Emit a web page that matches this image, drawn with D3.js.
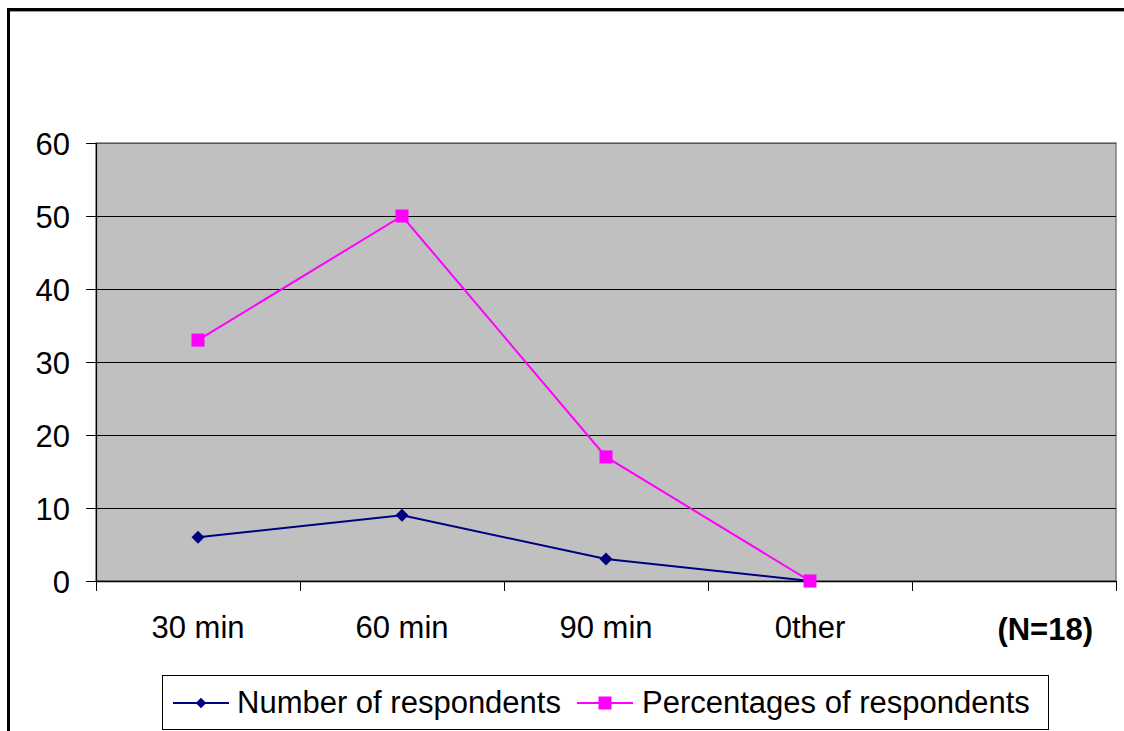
<!DOCTYPE html>
<html>
<head>
<meta charset="utf-8">
<script src="https://cdn.jsdelivr.net/npm/d3@7"></script>
<style>
  html, body { margin: 0; padding: 0; background: #fff; }
  svg { display: block; }
  text { font-family: "Liberation Sans", Arial, sans-serif; fill: #000; }
</style>
</head>
<body>
<svg id="chart" width="1124" height="731"></svg>
<script>
// Session length categories (the last slot is left empty, as in the sheet layout)
const categories = ["30 min", "60 min", "90 min", "0ther", ""];
const seriesNames = ["Number of respondents", "Percentages of respondents"];
const numberValues = [6, 9, 3, 0];
const percentValues = [33, 50, 17, 0];
const yTicks = [0, 10, 20, 30, 40, 50, 60];
const noteText = "(N=18)";

const svg = d3.select("#chart");
const plot = { left: 96, right: 1116, top: 143, bottom: 581 };
const fontSize = "31px";

const x = d3.scaleBand().domain(categories).range([plot.left, plot.right]).padding(0);
const y = d3.scaleLinear().domain([0, 60]).range([plot.bottom, plot.top]);
const cx = c => x(c) + x.bandwidth() / 2;

// outer chart frame
svg.append("rect")
  .attr("x", 8.5).attr("y", 9.5)
  .attr("width", 1140).attr("height", 760)
  .attr("fill", "none").attr("stroke", "#000").attr("stroke-width", 3);
svg.append("line")
  .attr("x1", 10).attr("x2", 1124).attr("y1", 11.5).attr("y2", 11.5)
  .attr("stroke", "#9a9a9a").attr("stroke-width", 1);

// plot area background
svg.append("rect")
  .attr("x", plot.left).attr("y", plot.top)
  .attr("width", plot.right - plot.left).attr("height", plot.bottom - plot.top)
  .attr("fill", "#c0c0c0").attr("stroke", "#808080").attr("stroke-width", 1.5);

// horizontal gridlines
svg.append("g").selectAll("line")
  .data(yTicks.filter(d => d > 0))
  .join("line")
  .attr("x1", plot.left).attr("x2", plot.right)
  .attr("y1", d => Math.round(y(d)) + 0.5).attr("y2", d => Math.round(y(d)) + 0.5)
  .attr("stroke", d => d === 60 ? "#555" : "#000").attr("stroke-width", 1);

// y axis
const yAxis = svg.append("g")
  .attr("transform", `translate(${plot.left},0)`)
  .call(d3.axisLeft(y).tickValues(yTicks).tickSize(10).tickPadding(16));
yAxis.select(".domain").attr("stroke", "#000").attr("stroke-width", 1.2);
yAxis.selectAll(".tick line").attr("stroke", "#000");
yAxis.selectAll("text").style("font-size", fontSize).attr("dy", "0.36em");

// x axis: line plus ticks at category boundaries
svg.append("line")
  .attr("x1", plot.left).attr("x2", plot.right)
  .attr("y1", plot.bottom + 0.5).attr("y2", plot.bottom + 0.5)
  .attr("stroke", "#000").attr("stroke-width", 1.5);
const bounds = categories.map(c => x(c)).concat([plot.right]);
svg.append("g").selectAll("line")
  .data(bounds)
  .join("line")
  .attr("x1", d => Math.round(d) + 0.5).attr("x2", d => Math.round(d) + 0.5)
  .attr("y1", plot.bottom).attr("y2", plot.bottom + 10)
  .attr("stroke", "#000").attr("stroke-width", 1);

svg.append("g").selectAll("text")
  .data(categories.filter(c => c !== ""))
  .join("text")
  .attr("x", d => cx(d)).attr("y", 638)
  .attr("text-anchor", "middle")
  .style("font-size", fontSize)
  .text(d => d);

svg.append("text")
  .attr("x", 1093).attr("y", 640)
  .attr("text-anchor", "end")
  .style("font-size", fontSize).style("font-weight", "bold")
  .text(noteText);

// series lines and markers
const navy = "#000080", magenta = "#ff00ff";
const line = d3.line().x((d, i) => cx(categories[i])).y(d => y(d));

svg.append("path").datum(numberValues)
  .attr("d", line).attr("fill", "none").attr("stroke", navy).attr("stroke-width", 2);
svg.append("path").datum(percentValues)
  .attr("d", line).attr("fill", "none").attr("stroke", magenta).attr("stroke-width", 2);

const diamond = d3.symbol().type(d3.symbolDiamond2).size(108);
svg.append("g").selectAll("path")
  .data(numberValues)
  .join("path")
  .attr("d", diamond)
  .attr("transform", (d, i) => `translate(${cx(categories[i])},${y(d)})`)
  .attr("fill", navy);

svg.append("g").selectAll("rect")
  .data(percentValues)
  .join("rect")
  .attr("x", (d, i) => cx(categories[i]) - 6.5)
  .attr("y", d => y(d) - 6.5)
  .attr("width", 13).attr("height", 13)
  .attr("fill", magenta);

// legend
const legend = svg.append("g");
legend.append("rect")
  .attr("x", 162.5).attr("y", 675.5).attr("width", 886).attr("height", 54)
  .attr("fill", "#fff").attr("stroke", "#000").attr("stroke-width", 1);

const legendItems = [
  { name: seriesNames[0], color: navy, x0: 173, marker: "diamond", tx: 237 },
  { name: seriesNames[1], color: magenta, x0: 577, marker: "square", tx: 642 }
];
legendItems.forEach(it => {
  legend.append("line")
    .attr("x1", it.x0).attr("x2", it.x0 + 56).attr("y1", 703).attr("y2", 703)
    .attr("stroke", it.color).attr("stroke-width", 2);
  if (it.marker === "diamond") {
    legend.append("path")
      .attr("d", d3.symbol().type(d3.symbolDiamond2).size(70)())
      .attr("transform", `translate(${it.x0 + 28},703)`)
      .attr("fill", it.color);
  } else {
    legend.append("rect")
      .attr("x", it.x0 + 28 - 6.5).attr("y", 703 - 6.5)
      .attr("width", 13).attr("height", 13).attr("fill", it.color);
  }
  legend.append("text")
    .attr("x", it.tx).attr("y", 713)
    .style("font-size", fontSize)
    .text(it.name);
});
</script>
</body>
</html>
